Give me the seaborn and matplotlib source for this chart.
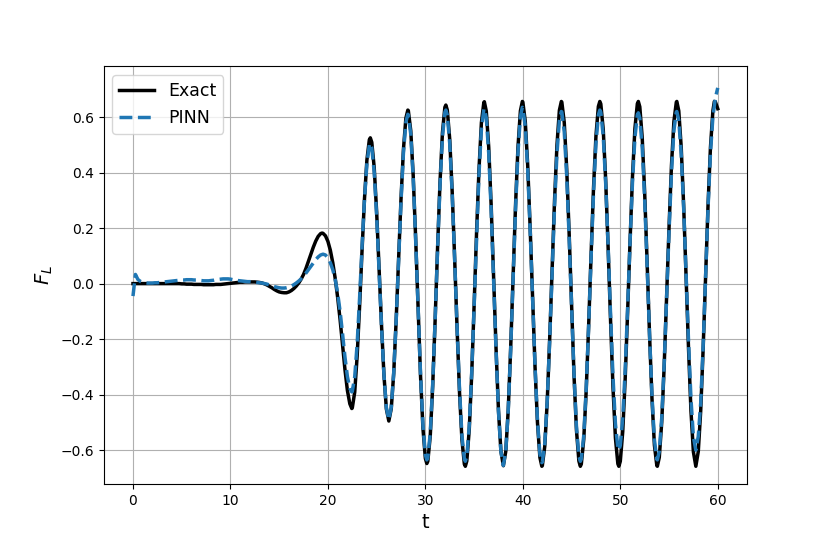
import matplotlib
matplotlib.use("Agg")
import matplotlib.pyplot as plt
import seaborn as sns
import numpy as np
import pandas as pd

# Malla de tiempo (paso 0.25)
t = np.linspace(0, 60, 241)

# Fuerza de sustentación exacta
exact = [
    0.000, 0.000, 0.000, 0.000, 0.000, 0.000, 0.000, 0.000,
    0.000, 0.000, 0.000, 0.000, 0.000, 0.000, 0.000, 0.000,
    0.000, 0.000, 0.000, 0.000,
    -0.001, -0.001, -0.002, -0.002, -0.002, -0.003, -0.003, -0.003,
    -0.003, -0.004, -0.004, -0.004, -0.004, -0.004, -0.003, -0.003,
    -0.003, -0.002, -0.001, 0.000, 0.001, 0.002, 0.003, 0.004,
    0.005, 0.005, 0.006, 0.006, 0.006, 0.006, 0.006, 0.005,
    0.004, 0.002, -0.001, -0.005, -0.010, -0.015, -0.021, -0.026,
    -0.030, -0.032, -0.033, -0.033, -0.030, -0.025, -0.018, -0.009,
    0.002, 0.016, 0.033, 0.055, 0.080, 0.106, 0.131, 0.153,
    0.170, 0.180, 0.181, 0.172, 0.152, 0.120, 0.075, 0.018,
    -0.050, -0.130, -0.220, -0.310, -0.385, -0.433, -0.448, -0.391,
    -0.261, -0.082, 0.118, 0.304, 0.445, 0.518, 0.509, 0.418,
    0.258, 0.057, -0.150, -0.330, -0.452, -0.495, -0.450, -0.324,
    -0.134, 0.087, 0.305, 0.484, 0.596, 0.623, 0.551, 0.390,
    0.166, -0.087, -0.330, -0.521, -0.630, -0.640, -0.549, -0.370,
    -0.132, 0.127, 0.364, 0.543, 0.635, 0.625, 0.519, 0.332,
    0.094, -0.159, -0.390, -0.562, -0.650, -0.639, -0.527, -0.330,
    -0.080, 0.182, 0.411, 0.580, 0.653, 0.621, 0.491, 0.282,
    0.026, -0.233, -0.457, -0.604, -0.656, -0.604, -0.456, -0.234,
    0.026, 0.281, 0.491, 0.622, 0.654, 0.584, 0.425, 0.202,
    -0.052, -0.299, -0.500, -0.626, -0.656, -0.586, -0.427, -0.204,
    0.050, 0.297, 0.498, 0.624, 0.654, 0.580, 0.414, 0.182,
    -0.079, -0.330, -0.527, -0.639, -0.650, -0.561, -0.387, -0.154,
    0.101, 0.342, 0.531, 0.638, 0.647, 0.555, 0.373, 0.130,
    -0.132, -0.374, -0.556, -0.649, -0.640, -0.533, -0.344, -0.103,
    0.152, 0.385, 0.559, 0.648, 0.637, 0.525, 0.328, 0.078,
    -0.184, -0.414, -0.582, -0.656, -0.626, -0.500, -0.299, -0.052,
    0.202, 0.425, 0.584, 0.654, 0.622, 0.491, 0.282, 0.025,
    -0.234, -0.459, -0.606, -0.658, -0.605, -0.458, -0.235, 0.025,
    0.280, 0.490, 0.622, 0.655, 0.630,
]

# Extremos de la solución exacta (fuera de la malla)
exact_peak_t = [19.4, 22.45, 24.35, 28.2, 30.15, 32.1, 34.1, 36.05, 39.95, 41.95,
                43.95, 45.9, 47.9, 49.85, 51.85, 53.8, 55.8, 59.65]
exact_peak_v = [0.182, -0.450, 0.525, 0.625, -0.648, 0.643, -0.658, 0.655, 0.656, -0.658,
                0.656, -0.658, 0.656, -0.658, 0.656, -0.658, 0.656, 0.656]

# Predicción de la PINN
pinn = [
    -0.045, 0.033, 0.015, 0.008, 0.005, 0.003, 0.002, 0.002,
    0.002, 0.003, 0.003, 0.004, 0.005, 0.006, 0.007, 0.008,
    0.009, 0.010, 0.011, 0.012, 0.013, 0.013, 0.014, 0.014,
    0.014, 0.013, 0.013, 0.012, 0.011, 0.010, 0.010, 0.010,
    0.011, 0.012, 0.014, 0.015, 0.016, 0.017, 0.017, 0.017,
    0.016, 0.014, 0.012, 0.011, 0.010, 0.009, 0.008, 0.007,
    0.007, 0.006, 0.005, 0.004, 0.003, 0.002, 0.000, -0.002,
    -0.005, -0.008, -0.011, -0.013, -0.015, -0.016, -0.016, -0.015,
    -0.013, -0.009, -0.004, 0.002, 0.009, 0.017, 0.027, 0.038,
    0.050, 0.062, 0.074, 0.086, 0.096, 0.103, 0.106, 0.103,
    0.093, 0.075, 0.050, 0.015, -0.035, -0.100, -0.180, -0.265,
    -0.335, -0.378, -0.389, -0.336, -0.217, -0.052, 0.132, 0.302,
    0.432, 0.499, 0.490, 0.401, 0.244, 0.048, -0.154, -0.329,
    -0.448, -0.490, -0.446, -0.322, -0.136, 0.082, 0.295, 0.471,
    0.581, 0.608, 0.538, 0.380, 0.161, -0.087, -0.324, -0.510,
    -0.617, -0.627, -0.538, -0.363, -0.131, 0.121, 0.353, 0.527,
    0.617, 0.607, 0.504, 0.323, 0.091, -0.155, -0.379, -0.547,
    -0.632, -0.622, -0.514, -0.323, -0.081, 0.172, 0.394, 0.557,
    0.628, 0.597, 0.469, 0.264, 0.013, -0.240, -0.460, -0.604,
    -0.655, -0.603, -0.458, -0.240, 0.016, 0.266, 0.472, 0.601,
    0.633, 0.565, 0.410, 0.193, -0.055, -0.296, -0.491, -0.614,
    -0.643, -0.576, -0.423, -0.208, 0.037, 0.275, 0.468, 0.589,
    0.618, 0.547, 0.388, 0.166, -0.085, -0.325, -0.514, -0.622,
    -0.632, -0.547, -0.379, -0.155, 0.091, 0.323, 0.504, 0.607,
    0.617, 0.531, 0.361, 0.135, -0.110, -0.335, -0.505, -0.592,
    -0.583, -0.484, -0.310, -0.087, 0.149, 0.365, 0.526, 0.608,
    0.597, 0.491, 0.303, 0.065, -0.184, -0.403, -0.563, -0.633,
    -0.604, -0.484, -0.292, -0.056, 0.186, 0.400, 0.552, 0.618,
    0.588, 0.467, 0.273, 0.034, -0.206, -0.415, -0.552, -0.600,
    -0.550, -0.430, -0.225, 0.020, 0.270, 0.470, 0.600, 0.668,
    0.705,
]

# Extremos de la PINN (fuera de la malla)
pinn_peak_t = [22.45, 24.35, 28.2, 30.15, 32.1, 34.1, 36.05, 39.95, 41.95,
               43.95, 45.9, 47.9, 49.85, 51.85, 53.8, 55.8]
pinn_peak_v = [-0.390, 0.505, 0.610, -0.635, 0.625, -0.640, 0.630, 0.635, -0.645,
               0.620, -0.640, 0.625, -0.600, 0.615, -0.635, 0.620]

df_exact = pd.concat([pd.DataFrame({'t': t, 'F': exact}),
                      pd.DataFrame({'t': exact_peak_t, 'F': exact_peak_v})]).sort_values('t')
df_pinn = pd.concat([pd.DataFrame({'t': t, 'F': pinn}),
                     pd.DataFrame({'t': pinn_peak_t, 'F': pinn_peak_v})]).sort_values('t')

fig = plt.figure(figsize=(8.3, 5.54), dpi=100)
plt.subplots_adjust(left=0.125, right=0.9, bottom=0.126, top=0.88)
ax = plt.gca()
sns.lineplot(x='t', y='F', data=df_exact, color='black', linewidth=2.5, label='Exact', ax=ax)
sns.lineplot(x='t', y='F', data=df_pinn, color='tab:blue', linewidth=2.5, linestyle='--', label='PINN', ax=ax)
plt.ylim(-0.7225, 0.782)
plt.xlabel('t', fontsize=14)
plt.ylabel(r'$F_L$', fontsize=14)
plt.grid(True)
plt.legend(loc='upper left', fontsize=12.5)
plt.savefig('out.png', dpi=100)
plt.close()
